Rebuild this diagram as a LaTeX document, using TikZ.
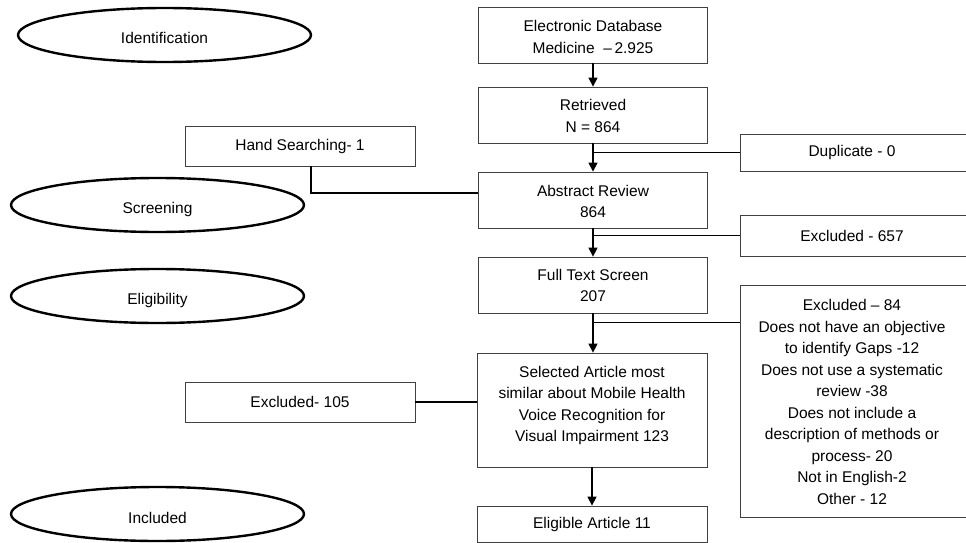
\documentclass[tikz,border=0pt]{standalone}
\usepackage{fontspec}
\setmainfont{Liberation Sans}
\usetikzlibrary{arrows.meta,shapes.geometric}
\newcommand{\lowertext}[2]{\raisebox{-#1}[\height][\depth]{\begin{tabular}{@{}c@{}}#2\end{tabular}}}
\tikzset{
  stage/.style={ellipse, draw, line width=2.4pt, minimum width=293pt, minimum height=54pt, inner sep=0pt},
  box/.style={draw=black!75, line width=0.8pt, inner sep=0pt, align=center, font=\fontsize{15.5pt}{21.5pt}\selectfont},
  flow/.style={line width=1.4pt, -{Triangle[width=9pt,length=9pt]}},
  link/.style={line width=1.4pt}
}
\begin{document}
\begin{tikzpicture}[x=1pt,y=-1pt, font=\fontsize{15.5pt}{21.5pt}\selectfont]
\useasboundingbox (0,0) rectangle (966,543);
% stage ellipses
\node[stage] (ident) at (164.5,35) {\raisebox{-3pt}[\height][\depth]{Identification}};
\node[stage] (screen) at (157.5,205) {\raisebox{-4pt}[\height][\depth]{Screening}};
\node[stage] (elig) at (157.5,296) {\raisebox{-4pt}[\height][\depth]{Eligibility}};
\node[stage] (incl) at (157.5,514) {\raisebox{-4pt}[\height][\depth]{Included}};
% main column
\node[box, minimum width=229pt, minimum height=56pt] (elec) at (593,35) {\lowertext{3pt}{Electronic Database\\Medicine \ –\,2.925}};
\node[box, minimum width=229pt, minimum height=56pt] (ret) at (593,115) {\lowertext{2pt}{Retrieved\\N = 864}};
\node[box, minimum width=229pt, minimum height=56pt] (abs) at (593,200) {\lowertext{2.5pt}{Abstract Review\\864}};
\node[box, minimum width=229pt, minimum height=56pt] (full) at (593,285) {\lowertext{1.5pt}{Full Text Screen\\207}};
\node[box, minimum width=230pt, minimum height=114pt] (sel) at (592,410) {\raisebox{5pt}[\height][\depth]{\begin{tabular}{@{}c@{}}Selected Article most\\similar about Mobile Health\\Voice Recognition for\\Visual Impairment 123\end{tabular}}};
\node[box, minimum width=230pt, minimum height=36pt] (final) at (592,524) {Eligible Article 11};
% side boxes
\node[box, minimum width=230pt, minimum height=40pt] (hand) at (300,146) {Hand Searching- 1};
\node[box, minimum width=230pt, minimum height=40pt] (ex105) at (300,402) {Excluded- 105};
\node[box, minimum width=232pt, minimum height=37pt] (dup) at (856,152.5) {\hspace*{-8pt}Duplicate - 0};
\node[box, minimum width=232pt, minimum height=41pt] (ex657) at (856,235.5) {\hspace*{-8pt}Excluded - 657};
\node[box, minimum width=232pt, minimum height=232pt] (ex84) at (856,401) {\hspace*{-8pt}\lowertext{2pt}{Excluded – 84\\Does not have an objective\\to identify Gaps -12\\Does not use a systematic\\review -38\\Does not include a\\description of methods or\\process- 20\\Not in English-2\\Other - 12}};
% connectors
\draw[flow] (elec.south) -- (ret.north);
\draw[flow] (ret.south) -- (abs.north);
\draw[flow] (abs.south) -- (full.north);
\draw[flow] (full.south) -- (full.south |- sel.north);
\draw[flow] (sel.south) -- (final.north);
\draw[link] (dup.west) -- (dup.west -| ret.south);
\draw[link] (ex657.west) -- (ex657.west -| abs.south);
\draw[link] ([yshift=-38pt]ex84.north west) -- ([yshift=-38pt]ex84.north west -| full.south);
\draw[link] ([xshift=11pt]hand.south) |- ([yshift=7pt]abs.west);
\draw[link] (ex105.east) -- (ex105.east -| sel.west);
\end{tikzpicture}
\end{document}
